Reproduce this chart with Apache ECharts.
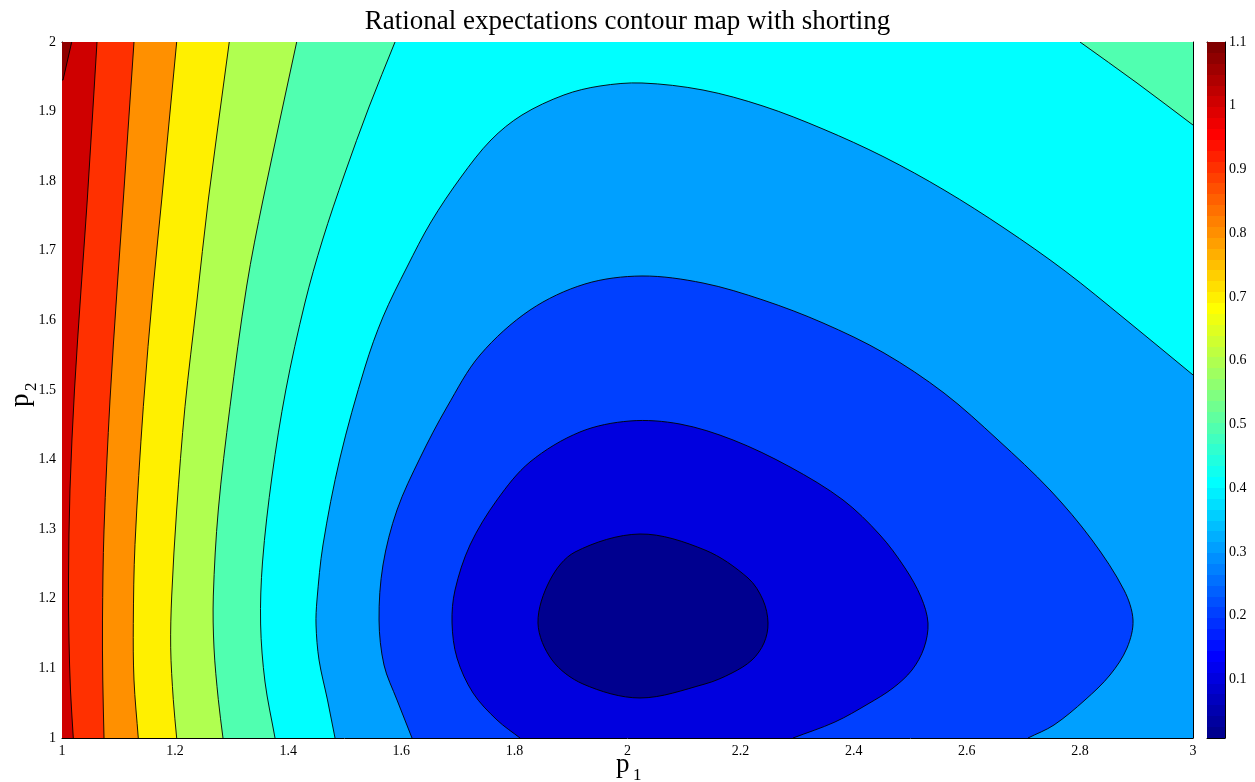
<!DOCTYPE html>
<html>
<head>
<meta charset="utf-8">
<script src="https://cdn.jsdelivr.net/npm/echarts@6/dist/echarts.min.js"></script>
<style>html,body{margin:0;padding:0;background:#fff}#c{width:1255px;height:782px}</style>
</head>
<body>
<div id="c"></div>
<script>
// ---- data (in data units p1 / p2) ----
const contourLevels = [0.1, 0.2, 0.3, 0.4, 0.5, 0.6, 0.7, 0.8, 0.9, 1.0, 1.1];
const bandColors = ['#00008F', '#0000DF', '#0040FF', '#00A0FF', '#00FFFF', '#50FFB0', '#B0FF50', '#FFF000', '#FF9000', '#FF3000', '#CF0000', '#8F0000'];
const colorbarRange = [0.008, 1.1];
const colorbarTicks = [0.1, 0.2, 0.3, 0.4, 0.5, 0.6, 0.7, 0.8, 0.9, 1, 1.1];

// level 1.1 (tiny piece in the top-left corner)
const contour110 = [[1.0172, 2.0], [1.0018, 1.9454]];
// level 1.0 (top -> bottom)
const contour100 = [[1.0619,2.0],[1.0447,1.7730],[1.0336,1.6437],[1.0221,1.5],[1.0141,1.3563],[1.0115,1.2270],[1.0124,1.1408],[1.0150,1.0690],[1.0200,1.0]];
// level 0.9
const contour090 = [[1.1273,2.0],[1.1084,1.7730],[1.0973,1.6437],[1.0849,1.4856],[1.0743,1.2989],[1.0716,1.1695],[1.0721,1.0833],[1.0743,1.0]];
// level 0.8
const contour080 = [[1.2028,2.0],[1.1763,1.7730],[1.1615,1.6494],[1.1438,1.4760],[1.1291,1.2780],[1.1261,1.1642],[1.1273,1.0833],[1.1349,1.0]];
// level 0.7
const contour070 = [[1.2958,2.0],[1.2587,1.7730],[1.2382,1.6250],[1.2175,1.4760],[1.2028,1.3276],[1.1940,1.2040],[1.1922,1.1296],[1.1968,1.0553],[1.2028,1.0]];
// level 0.6
const contour060 = [[1.4150,2.0],[1.3554,1.7730],[1.3266,1.6494],[1.2971,1.4760],[1.2764,1.3276],[1.2676,1.2040],[1.2688,1.1293],[1.2764,1.0553],[1.2847,1.0]];
// level 0.5: left branch (top -> bottom) and top-right corner branch (top -> right edge)
const contour050Left = [[1.5889,2.0],[1.5429,1.9066],[1.4997,1.8103],[1.4607,1.7155],[1.4295,1.6250],[1.3958,1.5],[1.3714,1.3764],[1.3546,1.2529],[1.3512,1.1638],[1.3590,1.0805],[1.3767,1.0]];
const contour050Corner = [[2.8002,2.0],[2.9010,1.9411],[3.0,1.8807]];
// level 0.4 (bottom -> over the top -> right edge)
const contour040 = [[1.4828,1.0],[1.4695,1.0546],[1.4545,1.1121],[1.4492,1.1624],[1.4509,1.1983],[1.4615,1.2773],[1.4916,1.4023],[1.5358,1.5330],[1.5676,1.6049],[1.6101,1.6767],[1.6525,1.7414],[1.7056,1.8060],[1.7586,1.8592],[1.8134,1.8951],[1.8877,1.9239],[1.9514,1.9368],[2.0256,1.9411],[2.1335,1.9310],[2.2396,1.9080],[2.3457,1.8750],[2.4536,1.8348],[2.5597,1.7874],[2.6658,1.7328],[2.7737,1.6710],[2.8797,1.6020],[3.0,1.5216]];
// level 0.3 (bottom -> bottom)
const contour030 = [[1.6189,1.0],[1.5924,1.0546],[1.5694,1.1049],[1.5606,1.1695],[1.5676,1.2486],[1.5924,1.3276],[1.6331,1.4023],[1.6808,1.4756],[1.7392,1.5503],[1.8276,1.6149],[1.9248,1.6523],[2.0256,1.6638],[2.1335,1.6537],[2.2396,1.6293],[2.3457,1.5963],[2.4536,1.5532],[2.5597,1.4957],[2.6552,1.4282],[2.7472,1.3563],[2.8214,1.2845],[2.8780,1.2126],[2.8939,1.1695],[2.8833,1.1293],[2.8532,1.0905],[2.8090,1.0546],[2.7542,1.0187],[2.7082,1.0]];
// level 0.2 (bottom -> bottom)
const contour020 = [[1.8099,1.0],[1.7692,1.0259],[1.7268,1.0647],[1.6985,1.1149],[1.6897,1.1652],[1.6950,1.2126],[1.7215,1.2773],[1.7692,1.3420],[1.8276,1.3966],[1.9160,1.4397],[2.0044,1.4555],[2.0928,1.4511],[2.1866,1.4282],[2.2874,1.3894],[2.3811,1.3420],[2.4465,1.2917],[2.4907,1.2443],[2.5190,1.2026],[2.5314,1.1652],[2.5243,1.1293],[2.5031,1.0977],[2.4695,1.0718],[2.4253,1.0489],[2.3669,1.0230],[2.2927,1.0]];
// level 0.1 (closed)
const contour010 = [[2.0221,1.2931],[2.1370,1.2701],[2.2131,1.2299],[2.2396,1.1983],[2.2485,1.1652],[2.2414,1.1365],[2.2202,1.1121],[2.1848,1.0934],[2.1370,1.0776],[2.0221,1.0575],[1.9213,1.0776],[1.8665,1.1121],[1.8417,1.1652],[1.8630,1.2270],[1.9072,1.2672]];

// ---- fill regions, painted from the highest band down ----
// pieces: 's' = straight points, 'c' = open curve, 'o' = closed curve
const LO = 0.9, HI = 2.1, XR = 3.1, XL = 0.9;
const first = a => a[0], last = a => a[a.length - 1];
function leftRegion(line) {
  return [['c', line], ['s', [[last(line)[0], LO], [XR, LO], [XR, HI], [first(line)[0], HI]]]];
}
function bottomRegion(line) {
  return [['s', [[first(line)[0], LO]]], ['c', line], ['s', [[last(line)[0], LO]]]];
}
const regions = [
  { pieces: [['s', [[XL, LO], [XR, LO], [XR, HI], [XL, HI]]]], color: bandColors[10], stroke: false },
  { pieces: [['s', [[XL, HI], [first(contour110)[0], HI]]], ['c', contour110], ['s', [[XL, last(contour110)[1]]]]], color: bandColors[11], stroke: true },
  { pieces: leftRegion(contour100), color: bandColors[9], stroke: true },
  { pieces: leftRegion(contour090), color: bandColors[8], stroke: true },
  { pieces: leftRegion(contour080), color: bandColors[7], stroke: true },
  { pieces: leftRegion(contour070), color: bandColors[6], stroke: true },
  { pieces: leftRegion(contour060), color: bandColors[5], stroke: true },
  { pieces: [['c', contour050Left],
             ['s', [[last(contour050Left)[0], LO], [XR, LO], [XR, last(contour050Corner)[1]]]],
             ['c', contour050Corner.slice().reverse()],
             ['s', [[first(contour050Corner)[0], HI], [first(contour050Left)[0], HI]]]],
    color: bandColors[4], stroke: true },
  { pieces: [['s', [[first(contour040)[0], LO]]], ['c', contour040], ['s', [[XR, last(contour040)[1]], [XR, LO]]]], color: bandColors[3], stroke: true },
  { pieces: bottomRegion(contour030), color: bandColors[2], stroke: true },
  { pieces: bottomRegion(contour020), color: bandColors[1], stroke: true },
  { pieces: [['o', contour010]], color: bandColors[0], stroke: true }
];

// chord-length Catmull-Rom segments through pixel points -> SVG cubic commands
function dist(a, b) { return Math.hypot(a[0] - b[0], a[1] - b[1]) || 1e-6; }
function curveCmds(p, closed) {
  const n = p.length;
  const idx = i => closed ? (i + n) % n : Math.max(0, Math.min(n - 1, i));
  const tangent = i => {
    const ia = idx(i - 1), ib = idx(i + 1), ic = idx(i);
    const a = p[ia], b = p[ib], c = p[ic];
    const d = (ia === ic ? 0 : dist(c, a)) + (ib === ic ? 0 : dist(c, b));
    return [(b[0] - a[0]) / d, (b[1] - a[1]) / d];
  };
  let s = '';
  const segs = closed ? n : n - 1;
  for (let i = 0; i < segs; i++) {
    const p1 = p[idx(i)], p2 = p[idx(i + 1)];
    const L = dist(p1, p2) / 3;
    const m1 = tangent(i), m2 = tangent(i + 1);
    s += ' C' + (p1[0] + m1[0] * L) + ' ' + (p1[1] + m1[1] * L) + ' ' +
         (p2[0] - m2[0] * L) + ' ' + (p2[1] - m2[1] * L) + ' ' + p2[0] + ' ' + p2[1];
  }
  return s;
}
function regionPath(pieces, api) {
  let d = '';
  pieces.forEach(function (pc) {
    const pts = pc[1].map(q => api.coord(q));
    if (pc[0] === 's') {
      pts.forEach(q => { d += (d ? ' L' : 'M') + q[0] + ' ' + q[1]; });
    } else {
      d += (d ? ' L' : 'M') + pts[0][0] + ' ' + pts[0][1];
      d += curveCmds(pts, pc[0] === 'o');
    }
  });
  return d + ' Z';
}

// MATLAB-style jet(64) colormap, used as stepped colour stops for the colorbar
function jetStops(n) {
  const m = n / 4;
  const u = k => k < 1 ? 0 : k <= m ? k / m : k < 2 * m ? 1 : k <= 3 * m - 1 ? (3 * m - k) / m : 0;
  const g0 = Math.ceil(m / 2);
  const hex = v => ('0' + Math.round(Math.max(0, Math.min(1, v)) * 255).toString(16)).slice(-2);
  const stops = [];
  for (let j = 1; j <= n; j++) {
    const col = '#' + hex(u(j - g0 - m)) + hex(u(j - g0)) + hex(u(j + g0));
    stops.push({ offset: (j - 1) / n, color: col }, { offset: j / n, color: col });
  }
  return stops;
}

const serif = 'Liberation Serif';
const chart = echarts.init(document.getElementById('c'));

function mainAxis(pos, showLabel, extra) {
  return Object.assign({
    type: 'value', position: pos, gridIndex: 0,
    axisLine: { show: true, onZero: false, lineStyle: { color: '#000', width: 1 } },
    axisTick: { show: true, inside: true, length: 9, lineStyle: { color: '#000', width: 1 } },
    axisLabel: { show: showLabel, color: '#000', fontFamily: serif, fontSize: 14, margin: 6 },
    splitLine: { show: false }
  }, extra);
}
function cbFrame(pos) {
  return { type: 'value', gridIndex: 1, position: pos, min: 0, max: 1,
    axisLine: { show: true, onZero: false, lineStyle: { color: '#000' } },
    axisTick: { show: false }, axisLabel: { show: false }, splitLine: { show: false } };
}

chart.setOption({
  animation: false,
  backgroundColor: '#fff',
  title: {
    text: 'Rational expectations contour map with shorting',
    left: 'center', top: 3,
    textStyle: { fontFamily: serif, fontSize: 27, fontWeight: 'normal', color: '#000' }
  },
  grid: [
    { left: 62, top: 42, width: 1131, height: 696 },
    { left: 1207, top: 42, width: 18, height: 696 }
  ],
  xAxis: [
    mainAxis('bottom', true, { min: 1, max: 3, interval: 0.2 }),
    mainAxis('top', false, { min: 1, max: 3, interval: 0.2 }),
    cbFrame('bottom'),
    cbFrame('top')
  ],
  yAxis: [
    mainAxis('left', true, { min: 1, max: 2, interval: 0.1 }),
    mainAxis('right', false, { min: 1, max: 2, interval: 0.1 }),
    { type: 'value', gridIndex: 1, position: 'left', min: colorbarRange[0], max: colorbarRange[1],
      axisLine: { show: true, onZero: false, lineStyle: { color: '#000' } },
      axisTick: { show: true, inside: true, length: 6, customValues: colorbarTicks, lineStyle: { color: '#000' } },
      axisLabel: { show: false }, splitLine: { show: false } },
    { type: 'value', gridIndex: 1, position: 'right', min: colorbarRange[0], max: colorbarRange[1],
      axisLine: { show: true, onZero: false, lineStyle: { color: '#000' } },
      axisTick: { show: true, inside: true, length: 6, customValues: colorbarTicks, lineStyle: { color: '#000' } },
      axisLabel: { show: true, customValues: colorbarTicks, color: '#000', fontFamily: serif, fontSize: 14, margin: 4 },
      splitLine: { show: false } }
  ],
  series: [
    {
      type: 'custom', xAxisIndex: 0, yAxisIndex: 0, clip: true, z: 1,
      data: regions.map((r, i) => [1, 1, i]),
      renderItem: function (params, api) {
        const r = regions[api.value(2)];
        const cs = params.coordSys;
        return {
          type: 'path',
          shape: { pathData: regionPath(r.pieces, api) },
          style: { fill: r.color, stroke: r.stroke ? '#000' : null, lineWidth: 0.9 },
          clipPath: { type: 'rect', shape: { x: cs.x, y: cs.y, width: cs.width, height: cs.height } }
        };
      }
    },
    {
      type: 'custom', xAxisIndex: 2, yAxisIndex: 2, z: 1,
      data: [[0, colorbarRange[0], 1, colorbarRange[1]]],
      renderItem: function (params, api) {
        const p0 = api.coord([api.value(0), api.value(3)]);
        const p1 = api.coord([api.value(2), api.value(1)]);
        return {
          type: 'rect',
          shape: { x: p0[0], y: p0[1], width: p1[0] - p0[0], height: p1[1] - p0[1] },
          style: { fill: new echarts.graphic.LinearGradient(0, 1, 0, 0, jetStops(64)) }
        };
      }
    }
  ],
  graphic: [
    { type: 'text', left: 616, top: 751, style: { text: 'p', fontFamily: serif, fontSize: 27, fill: '#000' } },
    { type: 'text', left: 633, top: 767, style: { text: '1', fontFamily: serif, fontSize: 17, fill: '#000' } },
    { type: 'text', x: 7, y: 407, rotation: Math.PI / 2, style: { text: 'p', fontFamily: serif, fontSize: 27, fill: '#000' } },
    { type: 'text', x: 23, y: 391, rotation: Math.PI / 2, style: { text: '2', fontFamily: serif, fontSize: 17, fill: '#000' } }
  ]
});
</script>
</body>
</html>
